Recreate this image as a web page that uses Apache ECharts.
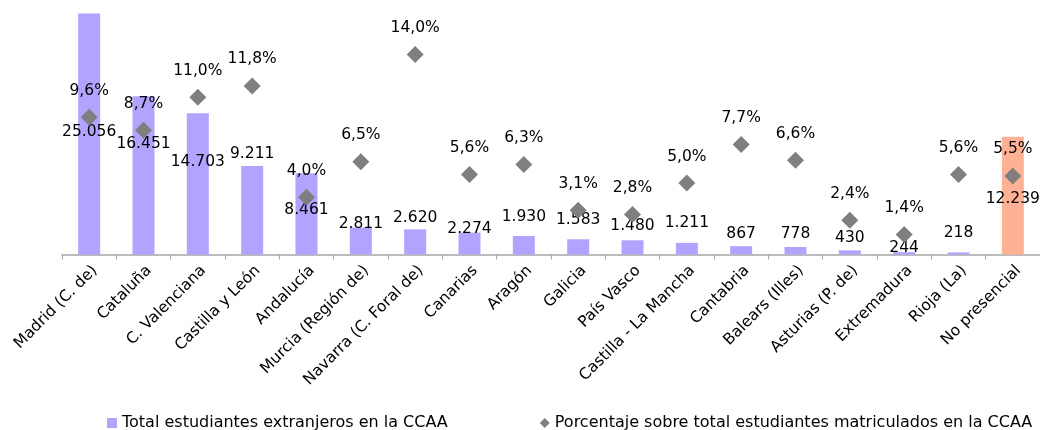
<!DOCTYPE html>
<html>
<head>
<meta charset="utf-8">
<script src="https://cdn.jsdelivr.net/npm/echarts@6/dist/echarts.min.js"></script>
<style>
html,body{margin:0;padding:0;background:#fff;}
#chart{width:1040px;height:430px;}
</style>
</head>
<body>
<div id="chart"></div>
<script>
// ---- data ----
var categories = ["Madrid (C. de)","Cataluña","C. Valenciana","Castilla y León","Andalucía","Murcia (Región de)","Navarra (C. Foral de)","Canarias","Aragón","Galicia","País Vasco","Castilla - La Mancha","Cantabria","Balears (Illes)","Asturias (P. de)","Extremadura","Rioja (La)","No presencial"];
var totalEstudiantes = [25056,16451,14703,9211,8461,2811,2620,2274,1930,1583,1480,1211,867,778,430,244,218,12239];
var porcentaje = [9.6,8.7,11.0,11.8,4.0,6.5,14.0,5.6,6.3,3.1,2.8,5.0,7.7,6.6,2.4,1.4,5.6,5.5];
var seriesNames = ["Total estudiantes extranjeros en la CCAA","Porcentaje sobre total estudiantes matriculados en la CCAA"];

// ---- styling (label vertical nudges, px) ----
var barLabelNudge = [126,56,57,-4,45,4,-3,4,-11,-11,-6,-12,-4,-5,-4,4,-11,70];

var FONT = "DejaVu Sans";
var FS = 15.5;
function fmtThousands(v){ return String(v).replace(/\B(?=(\d{3})+(?!\d))/g, "."); }
function fmtPct(v){ return v.toFixed(1).replace(".", ",") + "%"; }

var barData = totalEstudiantes.map(function(v,i){
  return {
    value: v,
    itemStyle: { color: i === categories.length-1 ? "#FFB196" : "#B0A4FF" },
    label: { offset: [0, barLabelNudge[i]] }
  };
});

var chart = echarts.init(document.getElementById("chart"), null, {renderer:"canvas"});
chart.setOption({
  animation: false,
  textStyle: { fontFamily: FONT },
  grid: { left: 62, width: 988, top: 4.5, bottom: 175.5, containLabel: false },
  legend: {
    left: 102, top: 410, itemGap: 92, itemWidth: 10, itemHeight: 10, itemStyle: {borderWidth:0},
    textStyle: { fontFamily: FONT, fontSize: 16, color: "#000" },
    data: [
      { name: seriesNames[0], icon: "rect" },
      { name: seriesNames[1], icon: "diamond" }
    ]
  },
  xAxis: {
    type: "category",
    data: categories,
    boundaryGap: true,
    axisLine: { show: true, lineStyle: { color: "#A6A6A6", width: 1.5 } },
    axisTick: { show: true, alignWithLabel: false, length: 5, lineStyle: { color: "#A6A6A6" } },
    axisLabel: { rotate: 45, interval: 0, margin: 8, verticalAlign: "top", fontFamily: FONT, fontSize: FS, color: "#000" }
  },
  yAxis: [
    { type: "value", min: 0, max: 26000, show: false, splitLine: {show:false} },
    { type: "value", min: 0, max: 17.5, show: false, splitLine: {show:false} }
  ],
  series: [
    {
      name: seriesNames[0],
      type: "bar",
      data: barData,
      barWidth: 22,
      itemStyle: { color: "#B0A4FF" },
      label: {
        show: true, position: "top", distance: 0,
        fontFamily: FONT, fontSize: FS, color: "#000",
        formatter: function(p){ return fmtThousands(p.value); }
      },
      z: 2
    },
    {
      name: seriesNames[1],
      type: "scatter",
      yAxisIndex: 1,
      data: porcentaje,
      symbol: "diamond",
      symbolSize: [17, 17],
      itemStyle: { color: "#7F7F7F", opacity: 1 },
      label: {
        show: true, position: "top", distance: 10, opacity: 1,
        fontFamily: FONT, fontSize: FS, color: "#000",
        formatter: function(p){ return fmtPct(p.value); }
      },
      z: 3
    }
  ]
});
</script>
</body>
</html>
